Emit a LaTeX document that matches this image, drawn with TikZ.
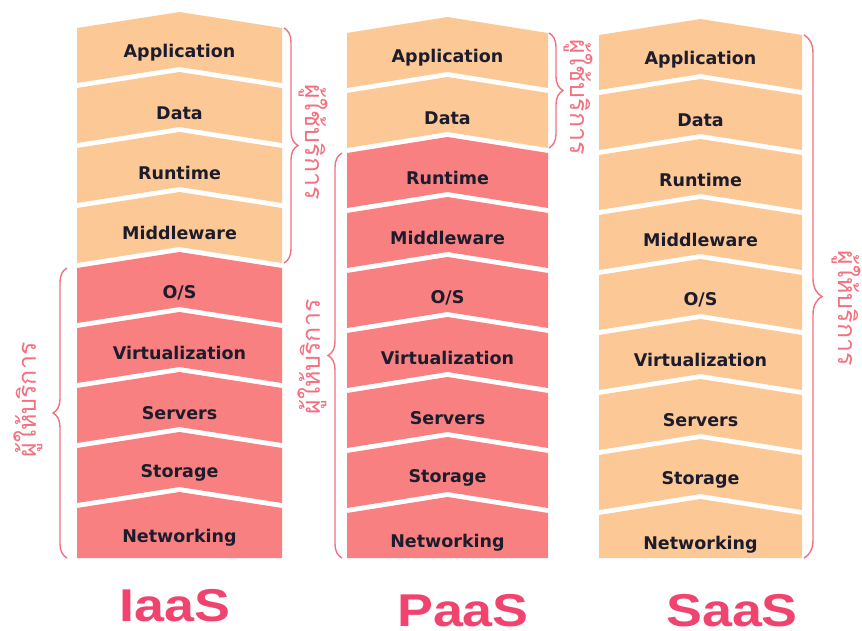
\documentclass[tikz,border=0pt]{standalone}
\usepackage{fontspec}
\setmainfont{DejaVu Sans}
\newfontfamily\thaifont[Script=Thai]{Loma}
\newfontfamily\titlefont{Liberation Sans}
\usetikzlibrary{decorations.pathreplacing}

\definecolor{userfill}{RGB}{252,200,150}
\definecolor{providerfill}{RGB}{248,128,128}
\definecolor{bracered}{RGB}{242,112,128}
\definecolor{titlered}{RGB}{240,68,110}
\definecolor{layertext}{RGB}{28,28,44}

\begin{document}
\begin{tikzpicture}[
  x=1pt, y=-1pt,
  layer label/.style={font=\bfseries\fontsize{17.5}{20}\selectfont, text=layertext},
  side brace/.style={draw=bracered, line width=1.4pt, decorate,
    decoration={brace, amplitude=14pt}},
  thai label/.style={font=\thaifont\fontsize{25}{28}\selectfont, text=bracered},
  model label/.style={font=\titlefont\bfseries\fontsize{46}{50}\selectfont,
    text=titlered, xscale=1.17, anchor=base, inner sep=0pt},
]
  \useasboundingbox (0,0) rectangle (862,630);

  \newcommand*{\LayerNum}{9}
  \newcommand*{\LayerPitch}{60}
  \newcommand*{\LayerHeight}{55}
  \newcommand*{\LayerDepth}{16}
  \newcommand*{\LayerBottom}{558}

  % Layer stacks, corner names: iaas-1-tl, iaas-1-tr, ..., label names: iaas-1, ...
  \foreach \model/\xl/\xr/\ytop/\nuser in {iaas/77/282/28/4, paas/347/548/33/2, saas/599/802/35/9} {
    \pgfmathsetmacro\xc{(\xl+\xr)/2}
    \foreach \t [count=\i] in {Application, Data, Runtime, Middleware,
                              O/S, Virtualization, Servers, Storage, Networking} {
      \pgfmathsetmacro\yt{\ytop + (\i-1)*\LayerPitch}
      \pgfmathsetmacro\yb{\i==\LayerNum ? \LayerBottom : \yt+\LayerHeight}
      \pgfmathsetmacro\yn{\i==\LayerNum ? \yb : \yb-\LayerDepth}
      \pgfmathsetmacro\ytext{\i==\LayerNum ? \yt+30 : \yt+25}
      \ifnum\i>\nuser \def\LayerColor{providerfill}\else\def\LayerColor{userfill}\fi
      \fill[\LayerColor]
        (\xl,\yt) coordinate (\model-\i-tl)
        -- (\xc,\yt-\LayerDepth)
        -- (\xr,\yt) coordinate (\model-\i-tr)
        -- (\xr,\yb) coordinate (\model-\i-br)
        -- (\xc,\yn)
        -- (\xl,\yb) coordinate (\model-\i-bl)
        -- cycle;
      \node[layer label] (\model-\i) at (\xc,\ytext) {\t};
    }
  }

  % Braces: right ones top to bottom, left ones bottom to top
  \draw[side brace] ([xshift=2pt]iaas-1-tr) -- ([xshift=2pt]iaas-4-br);
  \draw[side brace] ([xshift=-10pt]iaas-9-bl) -- ([xshift=-10pt]iaas-5-tl);
  \draw[side brace] ([xshift=1pt]paas-1-tr) -- ([xshift=1pt]paas-2-br);
  \draw[side brace] ([xshift=-5pt]paas-9-bl) -- ([xshift=-5pt]paas-3-tl);
  \draw[side brace, decoration={amplitude=18pt}] ([xshift=2pt]saas-1-tr) -- ([xshift=2pt]saas-9-br);

  \node[thai label, rotate=-90] (iaas-user) at (313,142) {ผู้ใช้บริการ};
  \node[thai label, rotate=90] (iaas-provider) at (28,400) {ผู้ให้บริการ};
  \node[thai label, rotate=-90] (paas-user) at (578,97) {ผู้ใช้บริการ};
  \node[thai label, rotate=90] (paas-provider) at (312,357) {ผู้ให้บริการ};
  \node[thai label, rotate=-90] (saas-provider) at (846,308) {ผู้ให้บริการ};

  \node[model label] (iaas) at (175,621) {IaaS};
  \node[model label] (paas) at (463,626) {PaaS};
  \node[model label] (saas) at (732,626) {SaaS};
\end{tikzpicture}
\end{document}
